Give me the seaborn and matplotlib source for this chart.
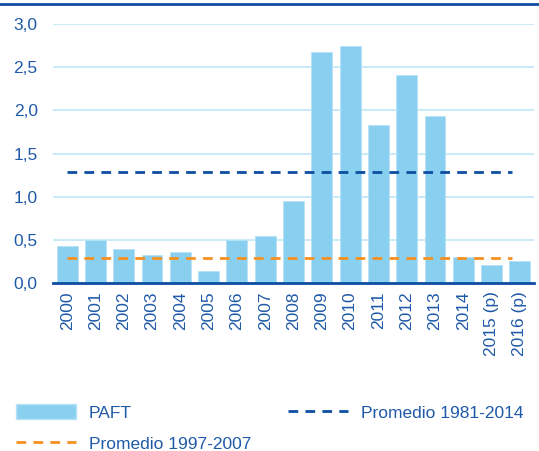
import numpy as np
import pandas as pd
import matplotlib
matplotlib.use("Agg")
import matplotlib.pyplot as plt
import seaborn as sns
from matplotlib.lines import Line2D
from matplotlib.patches import Patch

# datos
years = ["2000", "2001", "2002", "2003", "2004", "2005", "2006", "2007", "2008",
         "2009", "2010", "2011", "2012", "2013", "2014", "2015 (p)", "2016 (p)"]
paft = [0.43, 0.50, 0.39, 0.32, 0.36, 0.14, 0.50, 0.54, 0.95,
        2.68, 2.74, 1.83, 2.41, 1.94, 0.30, 0.21, 0.25]
prom_8114 = 1.29
prom_9707 = 0.29

bar_col = "#89d0f0"
txt_col = "#1f5aa8"
dark_blue = "#0d4ea1"
orange = "#f7901e"
grid_col = "#bfe6f7"
dash = (0, (3.5, 2.6))

sns.set_style("white")
plt.rcParams['font.family'] = ['Liberation Sans', 'DejaVu Sans']

df = pd.DataFrame({"year": years, "paft": paft})

fig = plt.figure(figsize=(5.39, 4.51), dpi=100)
ax = fig.add_axes([53/539, 1 - 283/451, (534-53)/539, (283-24)/451])

sns.barplot(data=df, x="year", y="paft", color=bar_col, saturation=1,
            width=0.74, edgecolor="#b8e2f6", linewidth=0.6, ax=ax, zorder=2)

# lineas de promedio
ax.hlines(prom_8114, 0, 15.72, colors=dark_blue, linestyles=dash, lw=2, zorder=3)
ax.hlines(prom_9707, 0, 15.72, colors=orange, linestyles=dash, lw=2, zorder=3)

ax.set_ylim(0, 3.0)
ax.set_xlim(-0.5, len(years) - 0.5)
ax.set_yticks(np.arange(0, 3.01, 0.5))
ax.set_yticklabels([f"{v:.1f}".replace(".", ",") for v in np.arange(0, 3.01, 0.5)])
ax.yaxis.grid(True, color=grid_col, lw=1.2, zorder=0)
ax.set_axisbelow(True)
ax.set_xlabel("")
ax.set_ylabel("")

for s in ["top", "right", "left"]:
    ax.spines[s].set_visible(False)
ax.spines["bottom"].set_color(dark_blue)
ax.spines["bottom"].set_linewidth(2)

ax.set_xticks(np.arange(len(years)))
ax.set_xticklabels(years, rotation=90, color=txt_col, fontsize=12.5)
ax.set_xticks(np.arange(len(years) + 1) - 0.5, minor=True)
ax.tick_params(axis="x", which="major", length=0, pad=6)
ax.tick_params(axis="x", which="minor", length=5, width=2, color=dark_blue, direction="out")
ax.tick_params(axis="y", length=0, labelcolor=txt_col, labelsize=12.5, pad=11)

# linea superior
fig.add_artist(Line2D([0, 1], [1 - 3.5/451, 1 - 3.5/451], color=dark_blue, lw=2))

handles = [Patch(facecolor=bar_col, edgecolor="#b8e2f6"),
           Line2D([], [], color=orange, ls=dash, lw=2),
           Line2D([], [], color=dark_blue, ls=dash, lw=2)]
labels = ["PAFT", "Promedio 1997-2007", "Promedio 1981-2014"]
leg = fig.legend(handles, labels, ncol=2, loc="lower left",
                 bbox_to_anchor=(0.0, -0.036), frameon=False,
                 fontsize=12.5, handlelength=3.45, handleheight=0.9,
                 columnspacing=2.15, labelspacing=0.85, handletextpad=0.75)
for t in leg.get_texts():
    t.set_color(txt_col)

fig.savefig("out.png", dpi=100)
